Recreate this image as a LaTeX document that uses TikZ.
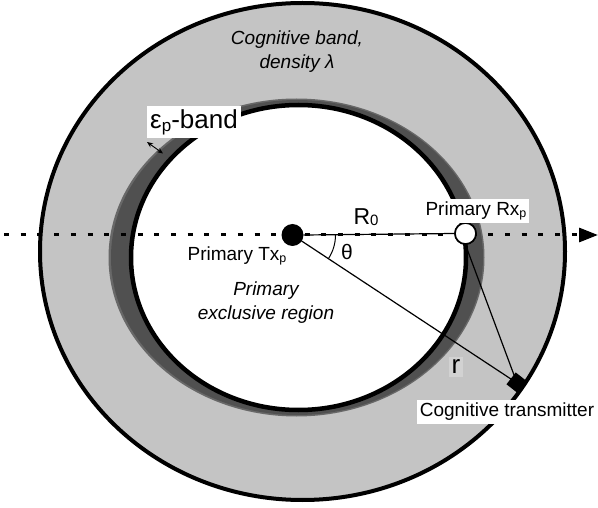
\documentclass[tikz,border=0pt]{standalone}
\usepackage{fontspec}
\setmainfont{Liberation Sans}
\usetikzlibrary{arrows.meta,calc}
\definecolor{bandgray}{HTML}{C4C4C4}
\definecolor{darkband}{HTML}{505050}
\definecolor{darkedge}{HTML}{686868}
\definecolor{rbox}{HTML}{D2D2D2}
\newcommand{\subp}[1]{\raisebox{-1.5pt}{\fontsize{12.5}{12.5}\selectfont #1}}
\begin{document}
\begin{tikzpicture}[x=1pt,y=-1pt,
  lbl/.style={inner sep=2pt, font=\fontsize{19}{23}\selectfont},
  ilbl/.style={inner sep=2pt, font=\fontsize{19}{24}\selectfont\itshape, align=center},
  dotline/.style={line width=3pt, dash pattern=on 5pt off 11.7pt},
  thin/.style={line width=1.2pt},
  txnode/.style={circle, fill=black, minimum size=22pt, inner sep=0pt},
  rxnode/.style={circle, fill=white, draw=black, line width=1.6pt, minimum size=21pt, inner sep=0pt},
  ctnode/.style={rectangle, fill=black, minimum size=15pt, inner sep=0pt, rotate=-38}]
\useasboundingbox (0,0) rectangle (598,508);
\fill[white] (0,0) rectangle (598,508);
% cognitive band
\filldraw[fill=bandgray, draw=black, line width=4pt] (302.5,251.5) ellipse [x radius=262.5pt, y radius=248.5pt];
% epsilon band
\fill[darkedge] (296.5,257.5) ellipse [x radius=188pt, y radius=159pt];
\fill[darkband] (297,257.5) ellipse [x radius=186pt, y radius=157.5pt];
% primary exclusive region
\filldraw[fill=white, draw=black, line width=4.5pt] (298.5,257.5) ellipse [x radius=167.5pt, y radius=152.5pt];
% axis
\coordinate (L) at (4,235);
\coordinate (R) at (598,235);
\draw[dotline, -{Triangle[length=19pt,width=14pt]}] (L) -- (R);
% nodes
\node[txnode] (tx) at (292.5,235) {};
\node[ctnode] (ct) at (517,383) {};
\draw[thin] (tx.center) -- (ct.center);
\node[rxnode] (rx) at (465.5,233.5) {};
\draw[thin] (tx.east) -- (rx.west);
\draw[thin] (rx.south) -- (ct.center);
\node[rxnode] (rx2) at (465.5,233.5) {};
% angle
\draw[line width=1pt] ($(tx.center)+(43,0)$) arc[start angle=0, end angle=-33.4, radius=43pt];
\node[lbl, font=\fontsize{21}{21}\selectfont] (theta) at (347,252) {θ};
% labels
\node[lbl, font=\fontsize{23}{23}\selectfont] (r0) at (366,217) {R\raisebox{-1pt}{\fontsize{15}{15}\selectfont 0}};
\node[lbl] (txl) at (237,256) {Primary Tx\subp{p}};
\node[lbl, fill=white, inner sep=3pt] (rxl) at (476,211) {Primary Rx\subp{p}};
\node[ilbl] (per) at (266,303) {Primary\\exclusive region};
\node[ilbl] (cb) at (297,52) {Cognitive band,\\density λ};
\node[lbl, fill=white, inner sep=3pt] (ctl) at (507,412) {Cognitive transmitter};
\node[lbl, fill=rbox, font=\fontsize{26}{26}\selectfont, inner sep=3pt] (rl) at (456,367) {r};
\node[lbl, fill=white, inner sep=3pt, font=\fontsize{26}{26}\selectfont] (epsl) at (194,122) {ε\raisebox{-3pt}{\fontsize{17}{17}\selectfont p}-band};
\coordinate (ea) at (147,142);
\coordinate (eb) at (163,153.5);
\draw[line width=0.9pt, {Stealth[length=6pt,width=5pt]}-{Stealth[length=6pt,width=5pt]}] (ea) -- (eb);
\end{tikzpicture}
\end{document}
